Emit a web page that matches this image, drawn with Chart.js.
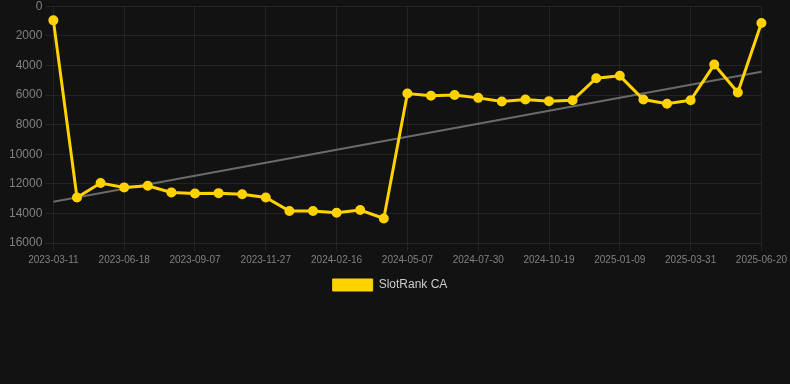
<!DOCTYPE html>
<html>
<head>
<meta charset="utf-8">
<script src="https://cdn.jsdelivr.net/npm/chart.js@4"></script>
<style>
  html, body { margin: 0; padding: 0; background: #121212; }
  #wrap { width: 790px; height: 301px; position: relative; }
</style>
</head>
<body>
<div id="wrap"><canvas id="rankChart"></canvas></div>
<script>
const dates = [
  '2023-03-11', '2023-04-14', '2023-05-19', '2023-06-18', '2023-07-15', '2023-08-11',
  '2023-09-07', '2023-10-04', '2023-10-31', '2023-11-27', '2023-12-24', '2024-01-20',
  '2024-02-16', '2024-03-14', '2024-04-10', '2024-05-07', '2024-06-04', '2024-07-02',
  '2024-07-30', '2024-08-26', '2024-09-22', '2024-10-19', '2024-11-15', '2024-12-12',
  '2025-01-09', '2025-02-05', '2025-03-04', '2025-03-31', '2025-04-27', '2025-05-24',
  '2025-06-20'
];

const rankCA = [
  950, 12920, 11950, 12240, 12130, 12580, 12650, 12630, 12700, 12920,
  13840, 13840, 13950, 13770, 14340, 5900, 6050, 5990, 6190, 6440,
  6300, 6410, 6350, 4860, 4700, 6300, 6590, 6350, 3940, 5830,
  1130
];

// trend line: only the two ends are known, the rest is spanned
const trendStart = 13210;
const trendEnd = 4430;
const trend = dates.map((_, i) => i === 0 ? trendStart : (i === dates.length - 1 ? trendEnd : null));

const yTicks = [0, 2000, 4000, 6000, 8000, 10000, 12000, 14000, 16000];

const gridColor = 'rgba(255,255,255,0.07)';
const font = "Arial, 'Liberation Sans', sans-serif";

const ctx = document.getElementById('rankChart').getContext('2d');
const rankChart = new Chart(ctx, {
  type: 'line',
  data: {
    labels: dates,
    datasets: [{
      label: 'SlotRank CA',
      data: rankCA,
      borderColor: '#ffd200',
      backgroundColor: '#ffd200',
      borderWidth: 3,
      pointRadius: 4,
      pointBorderWidth: 2,
      pointBackgroundColor: '#ffd200',
      pointBorderColor: '#ffd200',
      tension: 0,
      fill: false
    }, {
      label: 'trend',
      data: trend,
      borderColor: '#6a6a6a',
      borderWidth: 2,
      pointRadius: 0,
      spanGaps: true,
      fill: false
    }]
  },
  options: {
    responsive: true,
    maintainAspectRatio: false,
    animation: false,
    layout: { padding: { left: 6, right: 16 } },
    plugins: {
      legend: {
        position: 'bottom',
        labels: {
          color: '#cccccc',
          font: { family: font, size: 12 },
          filter: item => item.text !== 'trend',
          generateLabels: chart => {
            const items = Chart.defaults.plugins.legend.labels.generateLabels(chart);
            items.forEach(it => { it.lineWidth = 1; });
            return items;
          }
        }
      },
      tooltip: { enabled: false }
    },
    scales: {
      x: {
        grid: {
          color: c => (c.index % 3 === 0 ? gridColor : 'transparent')
        },
        ticks: {
          color: '#808080',
          font: { family: font, size: 10 },
          maxRotation: 0,
          autoSkip: false,
          callback: function (value, index) {
            return index % 3 === 0 ? this.getLabelForValue(value) : '';
          }
        },
        border: { display: false }
      },
      y: {
        reverse: true,
        min: yTicks[0],
        max: yTicks[yTicks.length - 1],
        grid: { color: gridColor },
        ticks: {
          color: '#808080',
          font: { family: font, size: 12, lineHeight: 0.55 },
          stepSize: 2000,
          callback: value => String(value)
        },
        border: { display: false }
      }
    }
  }
});
</script>
</body>
</html>
